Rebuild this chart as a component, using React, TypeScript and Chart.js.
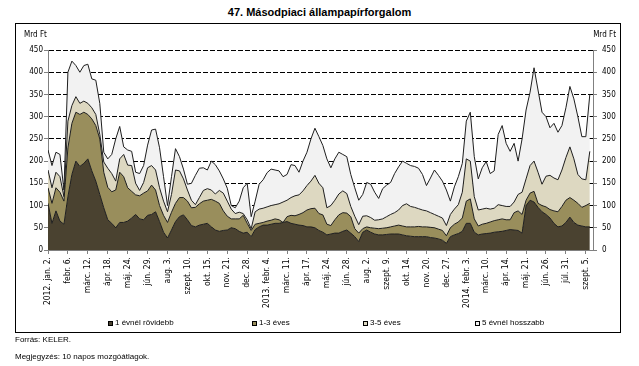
import React, { useEffect, useRef } from 'react';
import { Chart, registerables } from 'chart.js';

Chart.register(...registerables);

// Tick labels of the date axis (one every 25 trading days)
const tickLabels = [
  '2012. jan. 2.', 'febr. 6.', 'márc. 12.', 'ápr. 18.', 'máj. 24.', 'jún. 29.', 'aug. 3.',
  'szept. 10.', 'okt. 15.', 'nov. 21.', 'dec. 28.', '2013. febr. 4.', 'márc. 11.', 'ápr. 17.',
  'máj. 24.', 'jún. 28.', 'aug. 2.', 'szept. 9.', 'okt. 14.', 'nov. 20.', 'dec. 27.',
  '2014. febr. 3.', 'márc. 10.', 'ápr. 14.', 'máj. 21.', 'jún. 26.', 'júl. 31.', 'szept. 5.',
];

const seriesNames = ['1 évnél rövidebb', '1-3 éves', '3-5 éves', '5 évnél hosszabb'];

// Cumulative (stacked) levels, Mrd Ft, one value per 5 trading days.
// level of "1 évnél rövidebb"
const levelUnder1 = [
  105, 60, 88, 65, 58, 120, 170, 200, 188, 195,
  205, 178, 155, 125, 95, 68, 60, 50, 62, 62,
  65, 72, 80, 70, 68, 78, 80, 86, 64, 40,
  27, 45, 64, 75, 79, 68, 55, 52, 56, 58,
  60, 52, 45, 42, 44, 45, 50, 48, 42, 38,
  40, 30, 46, 52, 56, 56, 58, 60, 60, 62,
  64, 60, 58, 56, 55, 52, 52, 50, 44, 40,
  34, 36, 38, 38, 42, 45, 38, 30, 19, 40,
  45, 40, 36, 34, 34, 35, 36, 36, 36, 34,
  32, 31, 30, 30, 30, 30, 28, 27, 25, 22,
  15, 30, 34, 37, 42, 60, 60, 40, 34, 36,
  37, 38, 40, 41, 42, 44, 46, 45, 44, 38,
  100, 112, 108, 96, 86, 80, 72, 60, 52, 54,
  62, 74, 62, 56, 54, 52, 52,
];
// level of "1 évnél rövidebb" + "1-3 éves"
const levelUpTo3 = [
  140, 105, 140, 130, 110, 230, 285, 310, 305, 310,
  305, 295, 280, 250, 175, 141, 131, 135, 175, 165,
  140, 132, 124, 122, 128, 133, 146, 135, 100, 78,
  62, 85, 105, 118, 118, 110, 95, 96, 104, 110,
  112, 114, 110, 105, 88, 76, 70, 70, 70, 78,
  60, 44, 58, 60, 62, 65, 67, 70, 68, 62,
  75, 78, 77, 80, 84, 90, 93, 94, 82, 79,
  58, 55, 68, 79, 84, 83, 75, 48, 38, 48,
  52, 50, 49, 48, 49, 50, 52, 54, 56, 54,
  52, 52, 52, 53, 52, 52, 51, 50, 47, 44,
  32, 50, 58, 63, 72, 110, 115, 70, 54, 58,
  60, 63, 66, 68, 70, 68, 68, 84, 88, 80,
  112, 128, 132, 105, 100, 97, 91, 88, 86, 98,
  112, 118, 112, 105, 96, 100, 105,
];
// level up to "3-5 éves"
const levelUpTo5 = [
  180, 140, 175, 165, 120, 290, 325, 345, 330, 335,
  330, 320, 305, 260, 198, 184, 172, 155, 205, 215,
  191, 190, 150, 134, 152, 185, 190, 180, 140, 110,
  86, 125, 180, 178, 160, 135, 112, 102, 118, 134,
  138, 135, 126, 134, 128, 110, 92, 82, 85, 82,
  68, 48, 86, 92, 94, 97, 100, 102, 104, 108,
  112, 118, 122, 124, 133, 145, 155, 168, 150, 140,
  95, 100, 112, 126, 133, 127, 98, 76, 57, 76,
  77, 73, 67, 68, 70, 75, 80, 84, 90, 100,
  104, 98, 96, 93, 90, 88, 84, 80, 76, 72,
  55, 80, 92, 102, 130, 205, 200, 120, 90, 92,
  94, 92, 94, 102, 100, 98, 98, 108, 125, 130,
  160, 190, 200, 175, 148, 166, 168, 162, 158, 180,
  208, 232, 205, 170, 160, 158, 222,
];
// total (all maturities)
const levelTotal = [
  225, 190, 220, 215, 135, 400, 425, 415, 400, 415,
  418, 385, 382, 330, 220, 205, 215, 250, 278, 232,
  225, 222, 175, 172, 190, 236, 270, 272, 230, 165,
  100, 165, 228, 210, 182, 148, 150, 168, 184, 185,
  180, 200, 192, 178, 160, 139, 100, 95, 110, 140,
  150, 75, 110, 148, 158, 174, 182, 180, 178, 165,
  170, 192, 190, 175, 200, 220, 250, 274, 255, 235,
  205, 185, 205, 220, 215, 210, 170, 140, 112, 125,
  152, 148, 130, 116, 138, 146, 152, 172, 187, 200,
  195, 190, 188, 184, 170, 145, 162, 180, 168, 155,
  135, 110, 142, 165, 195, 290, 310, 210, 160, 185,
  199, 172, 178, 260, 280, 240, 222, 240, 200, 250,
  315, 355, 410, 360, 310, 300, 275, 285, 265, 280,
  320, 368, 340, 300, 255, 255, 350,
];

const yTicks = [0, 25, 50, 75, 100, 125, 150, 175, 200, 225, 250, 275, 300, 325, 350, 375, 400, 425, 450];

const bandColors = ['#4a4230', '#998e5c', '#ddd8c1', '#f2f2f2'];
const FONT = "'Liberation Sans', Arial, sans-serif";
const TICK_FONT = "'DejaVu Sans Condensed', 'Liberation Sans', sans-serif";

export default function App() {
  const ref = useRef<HTMLCanvasElement | null>(null);

  useEffect(() => {
    if (!ref.current) return;
    const levels = [levelUnder1, levelUpTo3, levelUpTo5, levelTotal];
    const chart = new Chart(ref.current, {
      type: 'line',
      data: {
        datasets: levels.map((arr, k) => ({
          label: seriesNames[k],
          data: arr.map((v, i) => ({ x: i, y: v })),
          backgroundColor: bandColors[k],
          borderColor: '#1e1e1e',
          borderWidth: 1,
          fill: k === 0 ? 'origin' : '-1',
          pointRadius: 0,
          tension: 0,
        })),
      },
      options: {
        responsive: false,
        maintainAspectRatio: false,
        animation: false,
        layout: { padding: { top: 26, left: 0, right: 0, bottom: 0 } },
        plugins: { legend: { display: false }, tooltip: { enabled: false }, title: { display: false } },
        scales: {
          x: {
            type: 'linear',
            min: 0,
            max: 136.8,
            afterBuildTicks: (s: any) => {
              s.ticks = tickLabels.map((_, k) => ({ value: k * 5 }));
            },
            afterFit: (s: any) => {
              s.height = 81;
            },
            ticks: {
              autoSkip: false,
              minRotation: 90,
              maxRotation: 90,
              padding: 3,
              color: '#000',
              font: { family: TICK_FONT, size: 8.5 },
              callback: (v: any) => tickLabels[Math.round(Number(v) / 5)] ?? '',
            },
            grid: { drawOnChartArea: false, drawTicks: true, tickLength: 4, tickColor: '#808080', color: '#808080' },
            border: { display: true, color: '#808080', width: 1 },
          },
          y: {
            position: 'left',
            min: 0,
            max: 450,
            afterBuildTicks: (s: any) => {
              s.ticks = yTicks.map((v) => ({ value: v }));
            },
            afterFit: (s: any) => {
              s.width = 32;
            },
            ticks: { padding: 1, color: '#000', font: { family: TICK_FONT, size: 8 } },
            grid: { color: '#000', lineWidth: 1, drawTicks: true, tickLength: 4, tickColor: '#808080' },
            border: { display: true, color: '#808080', width: 1, dash: [5, 2] },
          },
          y2: {
            position: 'right',
            min: 0,
            max: 450,
            afterBuildTicks: (s: any) => {
              s.ticks = yTicks.map((v) => ({ value: v }));
            },
            afterFit: (s: any) => {
              s.width = 26;
            },
            ticks: { padding: 5, color: '#000', font: { family: TICK_FONT, size: 8 } },
            grid: { drawOnChartArea: false, drawTicks: true, tickLength: 4, tickColor: '#808080' },
            border: { display: true, color: '#808080', width: 1 },
          },
        },
      } as any,
    });
    return () => chart.destroy();
  }, []);

  const legendX = [108, 252, 363, 475];
  const txt: React.CSSProperties = { position: 'absolute', fontFamily: FONT, fontSize: 8, color: '#000', whiteSpace: 'nowrap', lineHeight: '10px' };

  return (
    <div style={{ position: 'absolute', left: 0, top: 0, width: 639, height: 366, background: '#fff', overflow: 'hidden' }}>
      <div style={{ ...txt, left: 0, width: 639, top: 5, textAlign: 'center', fontSize: 11, fontWeight: 'bold', lineHeight: '14px' }}>
        47. Másodpiaci állampapírforgalom
      </div>
      <div style={{ position: 'absolute', left: 15, top: 23, width: 604, height: 308, border: '1px solid #000' }} />
      <canvas ref={ref} width={603} height={307} style={{ position: 'absolute', left: 16, top: 24, width: 603, height: 307 }} />
      <div style={{ ...txt, fontFamily: TICK_FONT, left: 24, top: 30 }}>Mrd Ft</div>
      <div style={{ ...txt, fontFamily: TICK_FONT, right: 639 - 616, top: 30 }}>Mrd Ft</div>
      {seriesNames.map((name, k) => (
        <div key={name} style={{ ...txt, left: legendX[k], top: 318, display: 'flex', alignItems: 'center' }}>
          <span style={{ display: 'inline-block', width: 3, height: 3, border: '1px solid #000', background: bandColors[k], marginRight: 2 }} />
          <span>{name}</span>
        </div>
      ))}
      <div style={{ ...txt, left: 15, top: 335 }}>Forrás: KELER.</div>
      <div style={{ ...txt, left: 15, top: 352 }}>Megjegyzés: 10 napos mozgóátlagok.</div>
    </div>
  );
}
